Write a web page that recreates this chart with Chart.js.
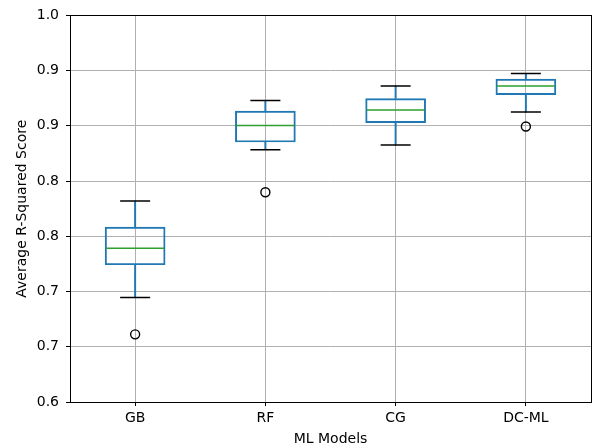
<!DOCTYPE html>
<html>
<head>
<meta charset="utf-8">
<script src="https://cdn.jsdelivr.net/npm/chart.js@4.4.1/dist/chart.umd.min.js"></script>
<style>
  html, body { margin: 0; padding: 0; background: #fff; }
  #wrap { width: 595px; height: 448px; }
</style>
</head>
<body>
<div id="wrap"><canvas id="chart" width="595" height="448"></canvas></div>
<script>
// Box plot values
const models = ["GB", "RF", "CG", "DC-ML"];
const lowerCap = [0.708, 0.861, 0.866, 0.900];
const q1 = [0.742, 0.869, 0.889, 0.918];
const median = [0.759, 0.886, 0.902, 0.927];
const q3 = [0.781, 0.901, 0.914, 0.934];
const upperCap = [0.808, 0.912, 0.927, 0.940];
const outliers = [0.670, 0.817, null, 0.885];

// y ticks are evenly spaced but printed with one decimal, so labels repeat
const yTickLabels = ["0.6", "0.7", "0.7", "0.8", "0.8", "0.9", "0.9", "1.0"];
const yMin = 0.6;
const yMax = 1.0;

const BLUE = "#1f77b4";
const GREEN = "#2ca02c";
const FONT = "'DejaVu Sans', sans-serif";

Chart.defaults.font.family = FONT;
Chart.defaults.font.size = 14;
Chart.defaults.color = "#000";

const yTickValues = yTickLabels.map((_, i) => yMin + (yMax - yMin) * i / (yTickLabels.length - 1));

// draws the black frame round the plot area like matplotlib
const framePlugin = {
  id: "frame",
  afterDraw(chart) {
    const { ctx, chartArea: a } = chart;
    ctx.save();
    ctx.strokeStyle = "#000";
    ctx.lineWidth = 1;
    ctx.strokeRect(Math.round(a.left) + 0.5, Math.round(a.top) + 0.5,
      Math.round(a.right - a.left), Math.round(a.bottom - a.top));
    ctx.restore();
  },
};

new Chart(document.getElementById("chart"), {
  data: {
    labels: models,
    datasets: [
      {
        type: "line",
        label: "median",
        data: median,
        order: 0,
        showLine: false,
        pointStyle: "line",
        pointRadius: 29,
        pointHoverRadius: 29,
        pointBorderWidth: 1.5,
        borderColor: GREEN,
      },
      {
        type: "line",
        label: "caps low",
        data: lowerCap,
        order: 0,
        showLine: false,
        pointStyle: "line",
        pointRadius: 15,
        pointBorderWidth: 1.5,
        borderColor: "#000",
      },
      {
        type: "line",
        label: "caps high",
        data: upperCap,
        order: 0,
        showLine: false,
        pointStyle: "line",
        pointRadius: 15,
        pointBorderWidth: 1.5,
        borderColor: "#000",
      },
      {
        type: "line",
        label: "outliers",
        data: outliers,
        order: 0,
        showLine: false,
        pointStyle: "circle",
        pointRadius: 4.5,
        pointBorderWidth: 1.4,
        borderColor: "#000",
        backgroundColor: "rgba(0,0,0,0)",
      },
      {
        type: "bar",
        label: "box",
        data: models.map((_, i) => [q1[i], q3[i]]),
        order: 1,
        backgroundColor: "rgba(0,0,0,0)",
        borderColor: BLUE,
        borderWidth: 1.3,
        borderSkipped: false,
        barThickness: 60,
        grouped: false,
      },
      {
        type: "bar",
        label: "lower whisker",
        data: models.map((_, i) => [lowerCap[i], q1[i]]),
        order: 2,
        backgroundColor: BLUE,
        borderWidth: 0,
        barThickness: 1.3,
        grouped: false,
      },
      {
        type: "bar",
        label: "upper whisker",
        data: models.map((_, i) => [q3[i], upperCap[i]]),
        order: 2,
        backgroundColor: BLUE,
        borderWidth: 0,
        barThickness: 1.3,
        grouped: false,
      },
    ],
  },
  options: {
    responsive: false,
    animation: false,
    layout: { autoPadding: false, padding: { top: 13, right: 4, left: 0, bottom: 0 } },
    plugins: {
      legend: { display: false },
      tooltip: { enabled: false },
    },
    scales: {
      x: {
        type: "category",
        offset: true,
        grid: {
          color: "#b0b0b0",
          lineWidth: 1,
          offset: false,
          tickColor: "#000",
          tickLength: 4,
        },
        border: { display: false },
        ticks: { padding: 4, color: "#000" },
        title: {
          display: true,
          text: "ML Models",
          color: "#000",
          padding: { top: 0, bottom: 0 },
        },
        afterFit(scale) { scale.height = 46; },
      },
      y: {
        min: yMin,
        max: yMax,
        grid: {
          color: "#b0b0b0",
          lineWidth: 1,
          tickColor: "#000",
          tickLength: 4,
        },
        border: { display: false },
        afterBuildTicks(scale) {
          scale.ticks = yTickValues.map((v) => ({ value: v }));
        },
        ticks: {
          padding: 7,
          color: "#000",
          callback: (v, i) => yTickLabels[i],
        },
        title: {
          display: true,
          text: "Average R-Squared Score",
          color: "#000",
          padding: { top: 14, bottom: 0 },
        },
        afterFit(scale) { scale.width = 70; },
      },
    },
  },
  plugins: [framePlugin],
});
</script>
</body>
</html>
